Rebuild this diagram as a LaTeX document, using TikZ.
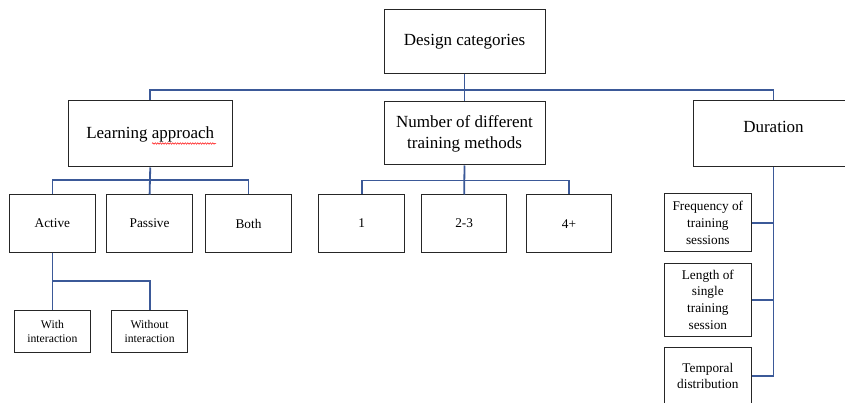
\documentclass[tikz,border=0pt]{standalone}
\usepackage{fontspec}
\setmainfont{Liberation Serif}
\usetikzlibrary{decorations.pathmorphing}
\definecolor{linkblue}{RGB}{59,89,152}
\tikzset{
  box/.style={draw=black!85, line width=1pt, fill=white, inner sep=0pt, align=center},
  big/.style={font=\fontsize{17}{21}\selectfont},
  mid/.style={font=\fontsize{13.3}{16.7}\selectfont},
  small/.style={font=\fontsize{11.7}{14.7}\selectfont},
  link/.style={draw=linkblue, line width=1.8pt}
}
\begin{document}
\begin{tikzpicture}[x=1pt,y=-1pt]
\useasboundingbox (0,0) rectangle (845,403);
\clip (0,0) rectangle (845,403);
% top level
\node[box,big,minimum width=161pt,minimum height=64pt] (dc) at (464.5,42) {Design categories};
\node[box,big,minimum width=163.5pt,minimum height=66pt] (la) at (150.25,134) {Learning approach};
\node[box,big,minimum width=161pt,minimum height=63pt] (nd) at (464.5,133.5) {Number of different\\training methods};
\node[box,minimum width=161pt,minimum height=66pt,
      label={[big,yshift=7pt]center:Duration}] (dur) at (773.5,134) {};
% learning approach children
\node[box,mid,minimum width=85.3pt,minimum height=57pt] (act) at (52.4,223.5) {Active};
\node[box,mid,minimum width=85.8pt,minimum height=57pt] (pas) at (149.6,223.5) {Passive};
\node[box,mid,minimum width=86.2pt,minimum height=57pt] (both) at (248.5,223.5) {Both};
% number children
\node[box,mid,minimum width=86.3pt,minimum height=57pt] (n1) at (361.75,223.5) {1};
\node[box,mid,minimum width=85.1pt,minimum height=57pt] (n23) at (464.15,223.5) {2-3};
\node[box,mid,minimum width=85.9pt,minimum height=57.7pt] (n4) at (569,223.85) {4+};
% active children
\node[box,small,minimum width=76.5pt,minimum height=41.3pt] (wi) at (52.4,331.35) {With\\interaction};
\node[box,small,minimum width=76.5pt,minimum height=41.3pt] (wo) at (149.6,331.35) {Without\\interaction};
% duration children
\node[box,mid,minimum width=86.3pt,minimum height=57.7pt] (fr) at (707.85,222.85) {Frequency of\\training\\sessions};
\node[box,mid,minimum width=86.3pt,minimum height=72.7pt] (len) at (707.85,299.65) {Length of\\single\\training\\session};
\node[box,mid,minimum width=86.3pt,minimum height=56.3pt] (tmp) at (707.85,375.85) {Temporal\\distribution};
% buses
\coordinate (bus) at (0,90);
\coordinate (lbus) at (0,180);
\coordinate (nbus) at (0,180.5);
\coordinate (abus) at (0,281);
% connectors
\draw[link] (dc.south) -- (nd.north);
\draw[link] (la.north) -- (la.north |- bus) -- (dur.north |- bus) -- (dur.north);
\draw[link] (la.south) -- (pas.north);
\draw[link] (act.north) -- (act.north |- lbus) -- (both.north |- lbus) -- (both.north);
\draw[link] (nd.south) -- (n23.north);
\draw[link] (n1.north) -- (n1.north |- nbus) -- (n4.north |- nbus) -- (n4.north);
\draw[link] (act.south) -- (wi.north);
\draw[link] (act.south |- abus) -- (wo.north |- abus) -- (wo.north);
\draw[link] (dur.south) -- (dur.south |- tmp.east) -- (tmp.east);
\draw[link] (fr.east) -- (fr.east -| dur.south);
\draw[link] (len.east) -- (len.east -| dur.south);
% spell-check underline
\draw[red, line width=0.5pt, decorate, decoration={snake, amplitude=0.7pt, segment length=2.5pt}] (152,143.5) -- (216,143.5);
\end{tikzpicture}
\end{document}
